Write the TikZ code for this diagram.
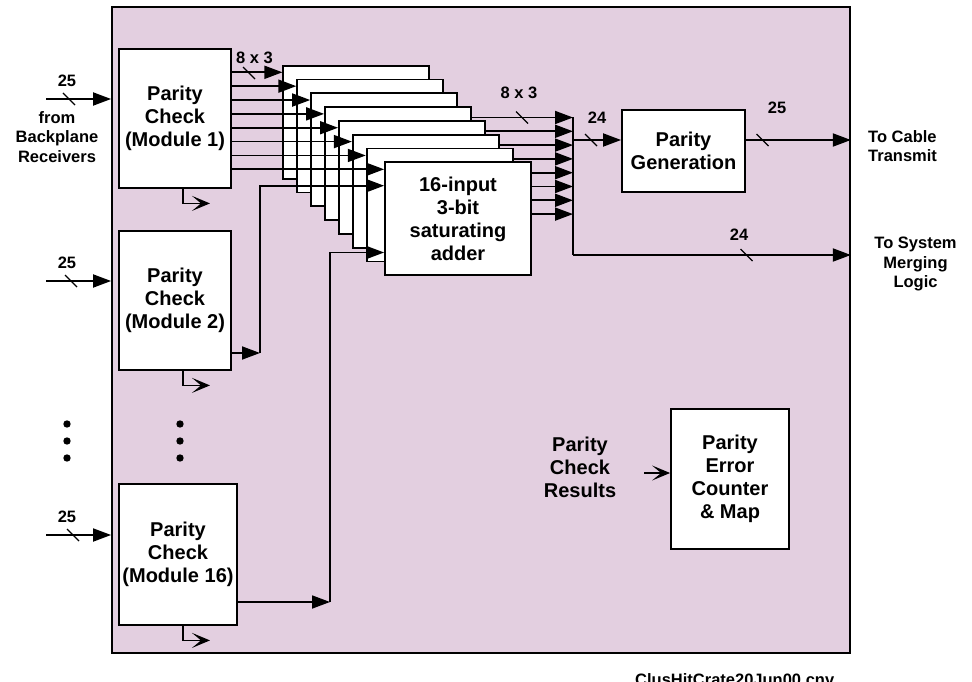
\documentclass[tikz,border=0pt]{standalone}
\usepackage{fontspec}
\setmainfont{Liberation Sans}
\usetikzlibrary{arrows.meta}
\definecolor{cratepink}{RGB}{227,207,224}
\newcommand{\lbl}{\fontsize{16.5}{19.5}\selectfont\bfseries}
\newcommand{\blk}{\fontsize{20}{23}\selectfont\bfseries}
\tikzset{
  wire/.style={line width=1.8pt},
  sig/.style={wire,-{Triangle[length=18pt,width=13pt]}},
  flag/.style={line width=1.6pt,-{Stealth[length=18pt,width=15pt,inset=9pt]}},
  cut/.style={line width=1.3pt},
  unit/.style={draw,line width=1.8pt,fill=white,align=center,font=\blk,inner sep=0pt},
  tag/.style={align=center,font=\lbl,inner sep=0pt},
}
\begin{document}
\begin{tikzpicture}[x=1pt,y=-1pt]
  \useasboundingbox (0,0) rectangle (972,682);
  % crate
  \node[draw,line width=1.8pt,fill=cratepink,minimum width=738pt,minimum height=646pt,inner sep=0pt] (crate) at (481,330) {};

  % parity check modules
  \node[unit,minimum width=112pt,minimum height=139pt] (m1) at (175,118.5) {Parity\\Check\\(Module 1)};
  \node[unit,minimum width=112pt,minimum height=139pt] (m2) at (175,300.5) {Parity\\Check\\(Module 2)};
  \node[unit,minimum width=118pt,minimum height=141pt] (m16) at (178,554.5) {Parity\\Check\\(Module 16)};

  % stacked adders
  \foreach \i in {0,...,6}
    \node[unit,minimum width=146pt,minimum height=113pt] (a\i) at ({356.3+13.9*\i},{122.2+13.8*\i}) {};
  \node[unit,minimum width=146pt,minimum height=113pt] (a7) at (458,218.8) {16-input\\3-bit\\saturating\\adder};

  \node[unit,minimum width=123pt,minimum height=82pt] (pg) at (683.5,151) {Parity\\Generation};
  \node[unit,minimum width=118pt,minimum height=140pt] (pe) at (730,479) {Parity\\Error\\Counter\\\& Map};
  \node[align=center,font=\blk,inner sep=0pt] (pcr) at (580,467) {Parity\\Check\\Results};

  % module 1 into every adder
  \foreach \i in {0,...,7}{
    \pgfmathsetmacro\yy{72.3+13.86*\i}
    \draw[sig] (m1.east |- 0,\yy) -- (a\i.west |- 0,\yy);
  }
  \node[tag] at (254.5,57.5) {8 x 3};
  \draw[cut] (243,67) -- ++(12,12);

  % module 2 and module 16 into the front adder
  \coordinate (r2) at (260,353);
  \draw[sig] (m2.east |- r2) -- (r2);
  \draw[sig] (r2) -- (r2 |- 0,185.7) -- (a7.west |- 0,185.7);
  \coordinate (r16) at (330,602);
  \draw[sig] (m16.east |- r16) -- (r16);
  \draw[sig] (r16) -- (r16 |- 0,252.5) -- (a7.west |- 0,252.5);

  % adder outputs
  \coordinate (bustop) at (573,117.5);
  \coordinate (busbot) at (573,255);
  \foreach \k/\src in {0/a3,1/a4,2/a5,3/a6,4/a7,5/a7,6/a7,7/a7}{
    \pgfmathsetmacro\yy{117.5+13.8*\k}
    \draw[sig] (\src.east |- 0,\yy) -- (bustop |- 0,\yy);
  }
  \draw[wire] (bustop) -- (busbot);
  \node[tag] at (519,93) {8 x 3};
  \draw[cut] (516,111.5) -- ++(12,12);

  \coordinate (pgtap) at (573,140);
  \draw[sig] (pgtap) -- (pg.west |- pgtap);
  \node[tag] at (597,118) {24};
  \draw[cut] (585,134) -- ++(12,12);
  \draw[sig] (pg.east |- pgtap) -- (crate.east |- pgtap);
  \node[tag] at (777,108) {25};
  \draw[cut] (756.5,134) -- ++(12,12);
  \draw[sig] (busbot) -- (crate.east |- busbot);
  \node[tag] at (739,235) {24};
  \draw[cut] (740.5,249) -- ++(12,12);

  % inputs from backplane
  \foreach \m/\yy/\sx in {m1/99/69,m2/281/71,m16/535/73}{
    \coordinate (in\m) at (46,\yy);
    \draw[sig] (in\m) -- (crate.west |- in\m);
    \draw[cut] (\sx-6,\yy-6) -- ++(12,12);
    \node[tag] at (67,\yy-18) {25};
  }
  \node[tag] (src) at (57,137) {from\\Backplane\\Receivers};

  % parity check results
  \foreach \m in {m1,m2,m16}
    \draw[flag] (\m.south -| 183,0) -- ++(0,14.5) -- ++(27,0);
  \coordinate (pcrtail) at (644,473);
  \draw[flag] (pcrtail) -- (pe.west |- pcrtail);

  % more modules
  \foreach \x in {67,180}
    \foreach \y in {424,441,458}
      \fill (\x,\y) circle (3.7pt);

  \node[tag,align=left,anchor=west] (cab) at (868,146) {To Cable\\Transmit};
  \node[tag] (sys) at (915.5,264) {To System\\Merging\\Logic};
  \node[font=\lbl,anchor=base west,inner sep=0pt] (cap) at (635,685) {ClusHitCrate20Jun00.cnv};
\end{tikzpicture}
\end{document}
